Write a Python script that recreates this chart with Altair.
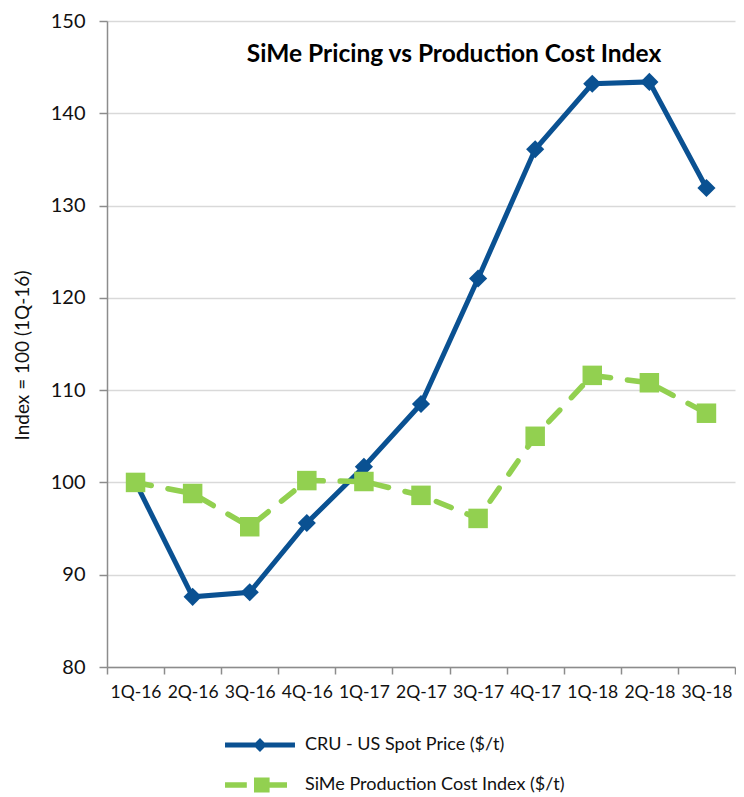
import altair as alt
import pandas as pd

quarters = ["1Q-16", "2Q-16", "3Q-16", "4Q-16", "1Q-17", "2Q-17",
            "3Q-17", "4Q-17", "1Q-18", "2Q-18", "3Q-18"]
cru_values = [100, 87.6, 88.1, 95.6, 101.7, 108.5, 122.1, 136.1, 143.2, 143.4, 131.9]
sime_values = [100, 98.8, 95.2, 100.2, 100.1, 98.6, 96.1, 105.0, 111.6, 110.8, 107.5]
series_names = ["CRU - US Spot Price ($/t)", "SiMe Production Cost Index ($/t)"]
series_colors = ["#0a5192", "#92d050"]
chart_title = "SiMe Pricing vs Production Cost Index"
y_title = "Index = 100 (1Q-16)"

rows = []
for q, v in zip(quarters, cru_values):
    rows.append({"quarter": q, "value": v, "series": series_names[0]})
for q, v in zip(quarters, sime_values):
    rows.append({"quarter": q, "value": v, "series": series_names[1]})
df = pd.DataFrame(rows)

# legend symbol paths (line + marker)
cru_symbol = "M-5.83,-0.42H5.83V0.42H-5.83Z M0,-1.15L1.15,0L0,1.15L-1.15,0Z"
sime_symbol = ("M-5.83,-0.45H-2.2V0.45H-5.83Z M-1.0,-1.25H1.6V1.25H-1.0Z "
               "M1.6,-0.45H4.5V0.45H1.6Z")

W, H = 628, 646

x_enc = alt.X(
    "quarter:N",
    sort=quarters,
    bandPosition=0.5,
    scale=alt.Scale(type="band", paddingInner=0, paddingOuter=0, domain=quarters),
    axis=alt.Axis(
        title=None, tickBand="extent", labelAngle=0, grid=False,
        labelFont="Lato", labelFontSize=17.5, labelColor="#111111",
        labelPadding=9, tickSize=7, tickColor="#8c8c8c", tickWidth=1.5,
        domainColor="#8c8c8c", domainWidth=1.5, labelOverlap=False,
    ),
)
y_enc = alt.Y(
    "value:Q",
    scale=alt.Scale(domain=[80, 150], nice=False, zero=False),
    axis=alt.Axis(
        title=y_title, titleFont="Lato", titleFontSize=19, titleFontWeight="normal",
        titleColor="#111111", titlePadding=18, titleY=334,
        values=[80, 90, 100, 110, 120, 130, 140, 150],
        labelFont="Lato", labelFontSize=20, labelColor="#111111", labelPadding=14,
        tickSize=8, tickColor="#8c8c8c", tickWidth=1.5,
        domainColor="#8c8c8c", domainWidth=1.5,
        grid=True, gridColor="#d9d9d9", gridWidth=1.5,
    ),
)

base = alt.Chart(df)

cru_line = base.transform_filter(alt.datum.series == series_names[0]).mark_line(
    color=series_colors[0], strokeWidth=5
).encode(x=x_enc, y=y_enc)

sime_line = base.transform_filter(alt.datum.series == series_names[1]).mark_line(
    color=series_colors[1], strokeWidth=5.5, strokeDash=[16, 17], strokeCap="round"
).encode(x=x_enc, y=y_enc)

cru_pts = base.transform_filter(alt.datum.series == series_names[0]).mark_point(
    shape="diamond", filled=True, color=series_colors[0], size=330, opacity=1
).encode(x=x_enc, y=y_enc)

sime_pts = base.transform_filter(alt.datum.series == series_names[1]).mark_point(
    shape="square", filled=True, color=series_colors[1], size=380, opacity=1
).encode(x=x_enc, y=y_enc)

legend_kw = dict(
    title=None, orient="none", legendX=144, legendY=715, direction="vertical",
    symbolOpacity=1, symbolSize=144, symbolStrokeWidth=0,
    labelFont="Lato", labelFontSize=18, labelColor="#111111", labelOffset=36,
    labelLimit=0, rowPadding=22, padding=0,
)

ghost = base.mark_point(filled=True, opacity=0).encode(
    x=x_enc, y=y_enc,
    color=alt.Color("series:N", scale=alt.Scale(domain=series_names, range=series_colors),
                    legend=alt.Legend(**legend_kw)),
    shape=alt.Shape("series:N", scale=alt.Scale(domain=series_names,
                                                range=[cru_symbol, sime_symbol]),
                    legend=alt.Legend(**legend_kw)),
)

title_df = pd.DataFrame({"t": [chart_title]})
title_layer = alt.Chart(title_df).mark_text(
    font="Lato", fontSize=24.5, fontWeight="bold", color="#000000",
    align="center", baseline="middle"
).encode(text="t:N", x=alt.value(347), y=alt.value(34))

chart = alt.layer(cru_line, sime_line, cru_pts, sime_pts, ghost, title_layer).properties(
    width=W, height=H,
    padding={"left": 5, "top": 3, "right": 0, "bottom": 0},
).configure_view(stroke=None)

chart.save("out.html", embed_options={"renderer": "svg", "actions": False})
